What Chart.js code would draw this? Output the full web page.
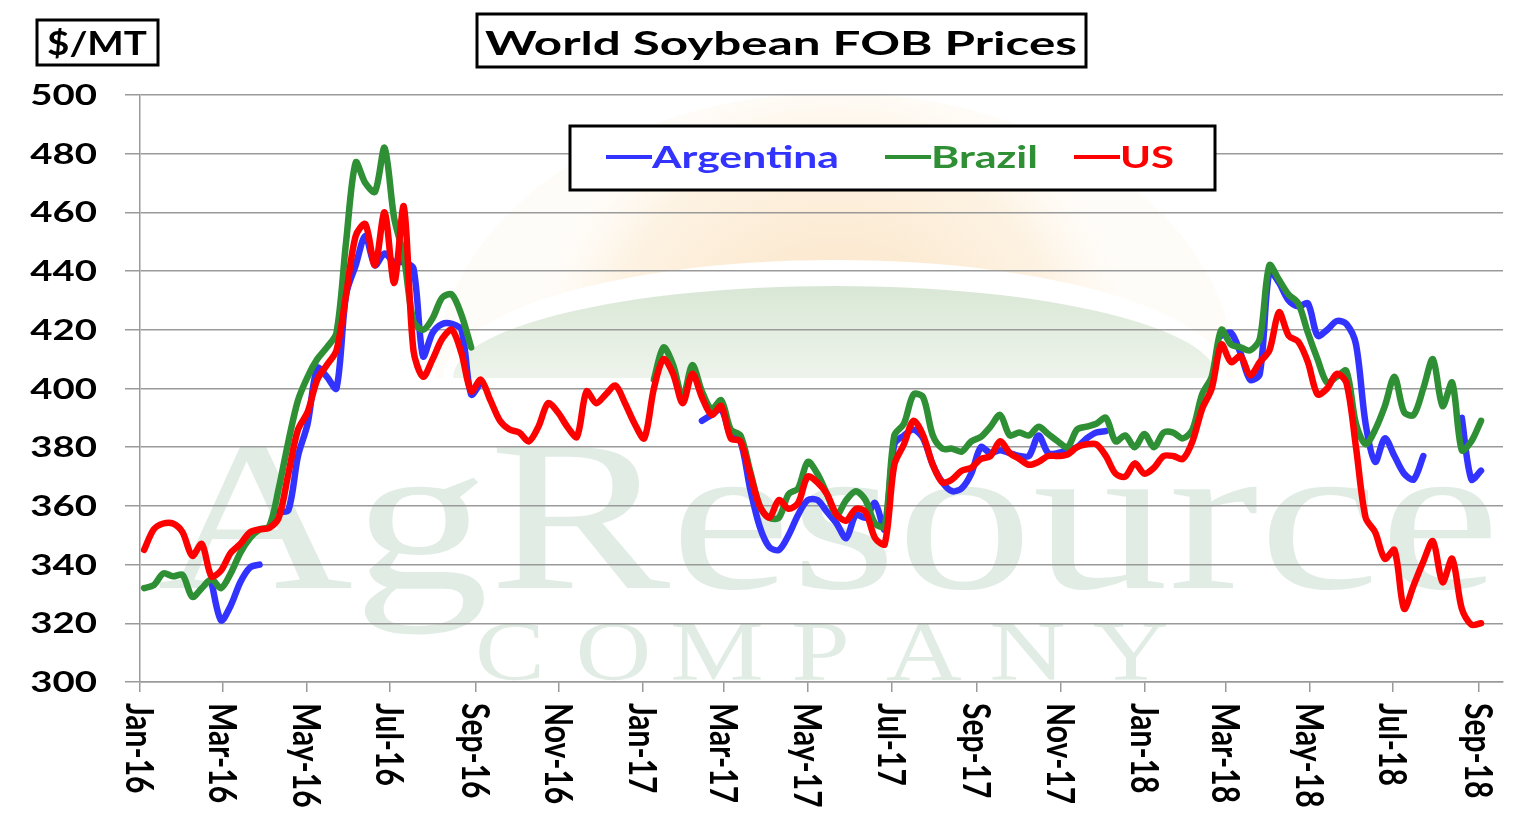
<!DOCTYPE html>
<html>
<head>
<meta charset="utf-8">
<title>World Soybean FOB Prices</title>
<script src="https://cdn.jsdelivr.net/npm/chart.js@4.4.1/dist/chart.umd.min.js"></script>
<style>
  html, body { margin: 0; padding: 0; background: #fff; }
  canvas { display: block; }
</style>
</head>
<body>
<canvas id="chart" width="1537" height="816"></canvas>
<script>
// x axis is in days after 1 Jan 2016, one observation per week
const tickDays = [0, 60, 121, 182, 244, 305, 366, 425, 486, 547, 609, 670, 731, 790, 851, 912, 974];
const tickLabels = ['Jan-16', 'Mar-16', 'May-16', 'Jul-16', 'Sep-16', 'Nov-16', 'Jan-17', 'Mar-17', 'May-17',
  'Jul-17', 'Sep-17', 'Nov-17', 'Jan-18', 'Mar-18', 'May-18', 'Jul-18', 'Sep-18'];
const firstDay = 3;
const weekStep = 7;

// $/MT, weekly
const argentina = [
  null, null, null, null, null, null, null, 334, 321, 326,
  334, 339, 340, null, 358, 358.5, 377, 388, 407, 404,
  400, 432, 442, 452, 442, 446, 443, 443, 441, 411,
  419, 422, 422, 420, 398, 402, null, null, null, null,
  null, null, null, null, null, null, null, null, null, null,
  null, null, null, null, null, null, null, null, 389, 391,
  393, 384, 382, 366, 353, 346, 345, 350, 357, 362,
  362, 358, 354, 349, 357, 356, 361, 352, 381, 384,
  386, 383, 374, 368, 365, 366, 371, 380, 378, 379,
  378, 377, 377, 384, 378, 378, 379, 380, 383, 385,
  385.5, null, null, null, null, null, null, null, null, null,
  null, null, 418, 419, 412, 403, 405, 440, 436, 430,
  428, 429, 418, 420, 423, 422, 415, 388, 375, 383,
  377, 371, 369, 377, null, null, null, 390, 369, 372
];
const brazil = [
  332, 333, 337, 336, 336.5, 329, 332, 335, 332, 337,
  344, 349, 352, 353, 366, 382, 396, 404, 410, 414,
  419, 450, 477, 470, 467, 482, 458, 445, 423, 420,
  424, 431, 432, 425, 414, null, null, null, null, null,
  null, null, null, null, null, null, null, null, null, null,
  null, null, null, 403, 414, 408, 397, 408, 399, 393,
  396, 386, 384, 372, 360, 356, 356, 364, 366, 375,
  371, 364, 357, 362, 365, 362, 354, 353, 384, 388,
  398, 397, 384, 379.5, 379.5, 378.5, 382, 383.5, 387, 391,
  384, 385, 384, 387, 384.5, 382, 380, 386, 387, 388,
  390, 382, 384, 380, 384.5, 380, 385, 385, 383, 386,
  398, 404, 420, 415, 414, 413, 417, 442, 437, 432,
  429, 419, 410, 402, 404, 406, 388, 381, 386, 394,
  404, 392, 391, 400, 410, 394, 402, 379, 382, 389
];
const us = [
  345, 352, 354, 354, 351, 343, 347, 336, 338, 344,
  347, 351, 352, 352.5, 356, 371, 386, 392, 403, 408,
  413, 432, 452, 456, 442, 460, 436, 462, 413, 404,
  410, 417, 420, 412, 399, 403, 396, 389, 386, 385,
  382, 387, 395, 392, 387, 383.5, 399, 395, 398, 401,
  395, 388, 383, 400, 410, 405, 395, 405, 397, 391,
  394, 383, 382, 371, 360, 356, 362, 359, 361, 370,
  368, 364, 357, 355, 359, 358, 349, 347, 374, 381,
  389, 384, 374, 368, 369, 372, 373, 376, 377, 382,
  378, 376, 374, 375, 377, 377, 377.5, 380, 381, 381,
  377, 371, 370, 374.5, 371, 373, 377, 377, 376, 382,
  393, 400, 415, 409, 411, 404.5, 409, 413, 426, 418,
  416, 409, 398, 400, 405, 402, 380, 356, 351, 342,
  345, 325, 333, 341, 348, 334, 342, 325, 319.5, 320
];

const BLUE = '#3333ff';
const GREEN = '#2f8f35';
const RED = '#ff0000';
const GRID = '#9a9a9a';

const toPoints = vals => vals.map((v, k) => ({ x: firstDay + k * weekStep, y: v }));

// bold text, stretched sideways like the original picture
function drawText(ctx, text, x, y, size, sx, color, align) {
  ctx.save();
  ctx.font = `bold ${size}px Lato`;
  ctx.translate(x, y);
  ctx.scale(sx, 1);
  ctx.textAlign = align || 'left';
  ctx.textBaseline = 'alphabetic';
  ctx.fillStyle = color;
  ctx.fillText(text, 0, 0);
  ctx.restore();
}

function fitScale(ctx, text, font, width) {
  ctx.save();
  ctx.font = font;
  const w = ctx.measureText(text).width;
  ctx.restore();
  return width / w;
}

const backdrop = {
  id: 'backdrop',
  beforeDraw(chart) {
    const { ctx, chartArea: a } = chart;
    ctx.save();
    ctx.fillStyle = '#fff';
    ctx.fillRect(0, 0, chart.width, chart.height);
    ctx.beginPath();
    ctx.rect(a.left, a.top, a.right - a.left, a.bottom - a.top);
    ctx.clip();

    // faint rising sun of the logo
    const sun = ctx.createRadialGradient(835, 380, 90, 835, 380, 300);
    sun.addColorStop(0, 'rgba(247,200,140,0.45)');
    sun.addColorStop(0.7, 'rgba(250,220,175,0.35)');
    sun.addColorStop(1, 'rgba(253,240,220,0.2)');
    ctx.fillStyle = sun;
    ctx.beginPath();
    ctx.ellipse(835, 378, 400, 285, 0, Math.PI, 2 * Math.PI);
    ctx.closePath();
    ctx.fill();
    ctx.fillStyle = '#fff';
    ctx.beginPath();
    ctx.ellipse(835, 378, 392, 118, 0, Math.PI, 2 * Math.PI);
    ctx.closePath();
    ctx.fill();
    const leaf = ctx.createLinearGradient(0, 285, 0, 378);
    leaf.addColorStop(0, 'rgba(200,220,195,0.7)');
    leaf.addColorStop(1, 'rgba(220,232,215,0.5)');
    ctx.fillStyle = leaf;
    ctx.beginPath();
    ctx.ellipse(835, 378, 382, 92, 0, Math.PI, 2 * Math.PI);
    ctx.closePath();
    ctx.fill();

    // watermark
    ctx.fillStyle = 'rgba(160,195,170,0.32)';
    ctx.font = '215px "Liberation Serif"';
    ctx.textBaseline = 'alphabetic';
    const wm = 'AgResource';
    const sx = 1343 / ctx.measureText(wm).width;
    ctx.save();
    ctx.translate(157, 588);
    ctx.scale(sx, 1);
    ctx.fillText(wm, 0, 0);
    ctx.restore();
    ctx.font = '84px "Liberation Serif"';
    ctx.textAlign = 'center';
    'COMPANY'.split('').forEach((ch, i) => {
      ctx.save();
      ctx.translate(510 + i * 103.5, 680);
      ctx.scale(1.25, 1);
      ctx.fillText(ch, 0, 0);
      ctx.restore();
    });
    ctx.restore();
  }
};

const labels = {
  id: 'labels',
  afterDraw(chart) {
    const { ctx, scales } = chart;

    // y tick labels
    scales.y.ticks.forEach(t => {
      drawText(ctx, String(t.value), 97, scales.y.getPixelForValue(t.value) + 10, 28, 1.37, '#000', 'right');
    });

    // x tick labels, turned a quarter clockwise
    tickDays.forEach((d, i) => {
      ctx.save();
      ctx.translate(scales.x.getPixelForValue(d), 703);
      ctx.rotate(Math.PI / 2);
      ctx.scale(1, 1.3);
      ctx.font = 'bold 30px Lato';
      ctx.fillStyle = '#000';
      ctx.textAlign = 'left';
      ctx.textBaseline = 'alphabetic';
      ctx.fillText(tickLabels[i], 0, 10.5);
      ctx.restore();
    });

    // boxes
    ctx.save();
    ctx.lineWidth = 3;
    ctx.strokeStyle = '#000';
    ctx.fillStyle = '#fff';
    [[37, 20, 121, 45], [477, 14, 609, 53], [570, 126, 645, 64]].forEach(([x, y, w, h]) => {
      ctx.fillRect(x, y, w, h);
      ctx.strokeRect(x, y, w, h);
    });
    ctx.restore();

    drawText(ctx, '$/MT', 47, 55, 32, fitScale(ctx, '$/MT', 'bold 32px Lato', 100), '#000');
    drawText(ctx, 'World Soybean FOB Prices', 485, 55, 33,
      fitScale(ctx, 'World Soybean FOB Prices', 'bold 33px Lato', 592), '#000');

    // legend: line sample then name
    const items = [['Argentina', 606, 187, BLUE], ['Brazil', 885, 107, GREEN], ['US', 1074, 54, RED]];
    items.forEach(([txt, x, w, c]) => {
      ctx.save();
      ctx.strokeStyle = c;
      ctx.lineWidth = 4;
      ctx.beginPath();
      ctx.moveTo(x, 157);
      ctx.lineTo(x + 46, 157);
      ctx.stroke();
      ctx.restore();
      drawText(ctx, txt, x + 46, 168, 31, fitScale(ctx, txt, 'bold 31px Lato', w), c);
    });
  }
};

const lineStyle = {
  borderWidth: 6.5,
  pointRadius: 0,
  tension: 0.3,
  spanGaps: false,
  borderCapStyle: 'round',
  borderJoinStyle: 'round'
};

new Chart(document.getElementById('chart'), {
  type: 'line',
  data: {
    datasets: [
      { label: 'Argentina', data: toPoints(argentina), borderColor: BLUE, order: 3, ...lineStyle },
      { label: 'Brazil', data: toPoints(brazil), borderColor: GREEN, order: 2, ...lineStyle },
      { label: 'US', data: toPoints(us), borderColor: RED, order: 1, ...lineStyle }
    ]
  },
  options: {
    responsive: false,
    animation: false,
    devicePixelRatio: 1,
    layout: { padding: { top: 95, right: 34, bottom: 0, left: 0 } },
    plugins: {
      legend: { display: false },
      tooltip: { enabled: false }
    },
    scales: {
      x: {
        type: 'linear',
        min: 0,
        max: 992,
        afterBuildTicks: s => { s.ticks = tickDays.map(v => ({ value: v })); },
        ticks: { display: false },
        grid: { drawOnChartArea: false, drawTicks: true, tickLength: 10, color: GRID, lineWidth: 1.5 },
        border: { color: GRID, width: 1.5 },
        afterFit: s => { s.height = 134; }
      },
      y: {
        min: 300,
        max: 500,
        ticks: { display: false, stepSize: 20 },
        grid: { color: GRID, lineWidth: 1.5, tickLength: 15 },
        border: { color: GRID, width: 1.5 },
        afterFit: s => { s.width = 140; }
      }
    }
  },
  plugins: [backdrop, labels]
});
</script>
</body>
</html>
